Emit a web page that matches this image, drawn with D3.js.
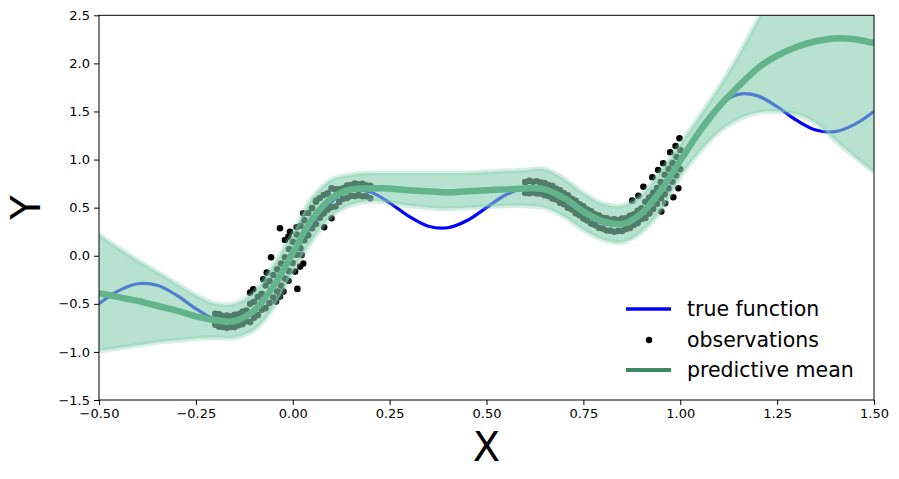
<!DOCTYPE html>
<html>
<head>
<meta charset="utf-8">
<script src="https://cdn.jsdelivr.net/npm/d3@7"></script>
<style>
body{margin:0;background:#fff;}
.font_legend{font-family:"DejaVu Sans";font-size:20.5px;fill:#000;}
.font_label{font-family:"DejaVu Sans";font-size:40px;fill:#000;}
</style>
</head>
<body>
<script>
var gridX=[-0.50,-0.45,-0.40,-0.35,-0.30,-0.25,-0.20,-0.15,-0.10,-0.05,0.00,0.05,0.10,0.15,0.20,0.25,0.30,0.35,0.40,0.45,0.50,
	0.55,0.60,0.65,0.70,0.75,0.80,0.85,0.90,0.95,1.00,1.05,1.10,1.15,1.20,1.25,1.30,1.35,1.40,1.45,1.50];
var trueY=[-0.500,-0.366,-0.291,-0.307,-0.409,-0.550,-0.662,-0.678,-0.562,-0.319,0.000,0.319,0.562,0.678,0.662,0.550,0.409,0.307,0.291,0.366,0.500,
	0.634,0.709,0.693,0.591,0.450,0.338,0.322,0.438,0.681,1.000,1.319,1.562,1.678,1.662,1.550,1.409,1.307,1.291,1.366,1.500];
var meanY=[-0.39,-0.43,-0.47,-0.52,-0.57,-0.63,-0.67,-0.68,-0.57,-0.32,0.03,0.38,0.60,0.69,0.70,0.70,0.68,0.67,0.66,0.67,0.68,
	0.69,0.70,0.69,0.60,0.46,0.36,0.33,0.44,0.68,0.99,1.29,1.55,1.76,1.95,2.08,2.17,2.23,2.26,2.25,2.21];
var upperY=[0.22,0.08,-0.05,-0.17,-0.29,-0.41,-0.50,-0.50,-0.38,-0.10,0.23,0.60,0.79,0.84,0.86,0.86,0.86,0.86,0.86,0.86,0.87,
	0.88,0.89,0.90,0.80,0.65,0.54,0.52,0.63,0.88,1.16,1.45,1.75,2.08,2.45,2.80,3.00,3.10,3.20,3.20,3.20];
var lowerY=[-0.99,-0.96,-0.93,-0.90,-0.88,-0.86,-0.85,-0.85,-0.77,-0.54,-0.17,0.16,0.41,0.53,0.57,0.55,0.52,0.50,0.49,0.50,0.51,
	0.52,0.52,0.50,0.41,0.27,0.17,0.14,0.25,0.47,0.82,1.08,1.29,1.42,1.49,1.50,1.47,1.38,1.20,1.03,0.87];

// observations: dense ones along the curve, then the scattered ones
var obsX=[-0.20,-0.19,-0.18,-0.17,-0.16,-0.15,-0.14,-0.13,-0.12,-0.11,-0.10,-0.09,-0.08,-0.07,-0.06,-0.05,-0.04,-0.03,-0.02,-0.01,0.00,
	0.01,0.02,0.03,0.04,0.05,0.06,0.07,0.08,0.09,0.10,0.11,0.12,0.13,0.14,0.15,0.16,0.17,0.18,0.19,0.20,
	-0.20,-0.19,-0.18,-0.17,-0.16,-0.15,-0.14,-0.13,-0.12,-0.11,-0.10,-0.09,-0.08,-0.07,-0.06,-0.05,-0.04,-0.03,-0.02,-0.01,0.00,
	0.01,0.02,0.03,0.04,0.05,0.06,0.07,0.08,0.09,0.10,0.11,0.12,0.13,0.14,0.15,0.16,0.17,0.18,0.19,0.20,
	0.60,0.61,0.62,0.63,0.64,0.65,0.66,0.67,0.68,0.69,0.70,0.71,0.72,0.73,0.74,0.75,0.76,0.77,0.78,0.79,0.80,
	0.81,0.82,0.83,0.84,0.85,0.86,0.87,0.88,0.89,0.90,0.91,0.92,0.93,0.94,0.95,0.96,0.97,0.98,0.99,1.00,
	0.60,0.61,0.62,0.63,0.64,0.65,0.66,0.67,0.68,0.69,0.70,0.71,0.72,0.73,0.74,0.75,0.76,0.77,0.78,0.79,0.80,
	0.81,0.82,0.83,0.84,0.85,0.86,0.87,0.88,0.89,0.90,0.91,0.92,0.93,0.94,0.95,0.96,0.97,0.98,0.99,1.00,
	0.060,0.027,-0.033,0.010,-0.007,-0.020,-0.011,-0.056,0.023,0.027,0.019,0.006,-0.067,-0.076,-0.011,0.012,-0.024,-0.102,-0.110,-0.033,-0.043,0.100,0.081,
	0.998,0.988,0.974,0.956,0.943,0.928,0.905,0.876,0.892,0.995,0.982,0.961,0.951];
var obsY=[-0.605,-0.610,-0.628,-0.622,-0.630,-0.614,-0.610,-0.584,-0.570,-0.500,-0.478,-0.428,-0.395,-0.310,-0.262,-0.200,-0.140,-0.080,-0.015,0.070,0.145,
	0.220,0.310,0.370,0.445,0.495,0.562,0.600,0.632,0.648,0.700,0.690,0.690,0.700,0.731,0.735,0.750,0.742,0.748,0.730,0.727,
	-0.718,-0.738,-0.740,-0.750,-0.741,-0.742,-0.722,-0.712,-0.680,-0.690,-0.645,-0.618,-0.562,-0.545,-0.492,-0.435,-0.372,-0.312,-0.238,-0.160,-0.075,
	0.010,0.078,0.162,0.212,0.285,0.330,0.395,0.440,0.478,0.505,0.512,0.560,0.592,0.600,0.622,0.620,0.630,0.618,0.618,0.598,
	0.765,0.778,0.770,0.775,0.760,0.757,0.735,0.724,0.696,0.680,0.648,0.628,0.592,0.571,0.534,0.514,0.479,0.462,0.431,0.419,0.394,
	0.390,0.373,0.378,0.371,0.386,0.390,0.416,0.431,0.468,0.494,0.562,0.605,0.655,0.705,0.765,0.842,0.905,0.965,1.030,1.100,
	0.652,0.650,0.658,0.647,0.648,0.629,0.622,0.596,0.584,0.552,0.535,0.500,0.480,0.443,0.422,0.386,0.367,0.334,0.319,0.291,0.282,
	0.262,0.261,0.250,0.259,0.258,0.278,0.288,0.319,0.340,0.382,0.392,0.440,0.485,0.540,0.597,0.640,0.700,0.770,0.835,0.900,
	0.573,0.442,0.286,0.296,0.250,0.164,0.199,-0.016,0.008,-0.080,-0.113,-0.165,-0.176,-0.244,-0.260,-0.345,-0.373,-0.348,-0.384,-0.425,-0.477,0.390,0.296,
	1.221,1.141,1.076,0.962,0.892,0.816,0.718,0.573,0.622,0.702,0.608,0.546,0.459];

var xTicks=[-0.50,-0.25,0.00,0.25,0.50,0.75,1.00,1.25,1.50];
var yTicks=[-1.5,-1.0,-0.5,0.0,0.5,1.0,1.5,2.0,2.5];
var legendNames=["true function","observations","predictive mean"];

var pLeft=99, pRight=874, pTop=15.3, pBottom=400;

var svg = d3.select("body").append("svg").attr("width", 899).attr("height", 479);

var x = d3.scaleLinear().domain([-0.5,1.5]).range([pLeft,pRight]);
var y = d3.scaleLinear().domain([-1.5,2.5]).range([pBottom,pTop]);

svg.append("clipPath").attr("id","plotclip")
	.append("rect").attr("x",pLeft).attr("y",pTop).attr("width",pRight-pLeft).attr("height",pBottom-pTop);

var plot = svg.append("g").attr("clip-path","url(#plotclip)");

var line = d3.line()
	.x(function(d,i){return x(gridX[i]);})
	.y(function(d){return y(d);})
	.curve(d3.curveCatmullRom);

plot.append("path").datum(trueY)
	.attr("d", line).attr("fill","none").attr("stroke","#0000ff").attr("stroke-width",3.2);

plot.selectAll("circle.obs").data(obsX).enter().append("circle")
	.attr("class","obs")
	.attr("cx", function(d){return x(d);})
	.attr("cy", function(d,i){return y(obsY[i]);})
	.attr("r", 3.3)
	.attr("fill","#000");

plot.append("path").datum(meanY)
	.attr("d", line).attr("fill","none").attr("stroke","#2e8b57").attr("stroke-width",6.5);

var area = d3.area()
	.x(function(d,i){return x(gridX[i]);})
	.y0(function(d,i){return y(lowerY[i]);})
	.y1(function(d){return y(d);})
	.curve(d3.curveCatmullRom);

plot.append("path").datum(upperY)
	.attr("d", area).attr("fill","rgb(135,207,176)").attr("fill-opacity",0.6);

// darker rim of the band
[upperY,lowerY].forEach(function(edge){
	plot.append("path").datum(edge)
		.attr("d", line).attr("fill","none")
		.attr("stroke","rgb(135,207,176)").attr("stroke-opacity",0.35).attr("stroke-width",5);
});

// axes
var gx = svg.append("g").attr("transform","translate(0,"+pBottom+")")
	.call(d3.axisBottom(x).tickValues(xTicks).tickFormat(d3.format(".2f")).tickSizeOuter(0).tickSize(5).tickPadding(4));
var gy = svg.append("g").attr("transform","translate("+pLeft+",0)")
	.call(d3.axisLeft(y).tickValues(yTicks).tickFormat(d3.format(".1f")).tickSizeOuter(0).tickSize(5).tickPadding(4));
[gx,gy].forEach(function(g){
	g.select(".domain").remove();
	g.attr("font-family","DejaVu Sans").attr("font-size",13);
	g.selectAll(".tick line").attr("stroke","#000");
	g.selectAll(".tick text").attr("fill","#000");
});

svg.append("rect").attr("x",pLeft).attr("y",pTop).attr("width",pRight-pLeft).attr("height",pBottom-pTop)
	.attr("fill","none").attr("stroke","#000").attr("stroke-width",1);

// axis labels
svg.append("text").attr("x",(pLeft+pRight)/2).attr("y",461)
	.style("text-anchor","middle").attr("class","font_label").text("X");
svg.append("text").attr("transform","translate(40,"+((pTop+pBottom)/2)+") rotate(-90)")
	.style("text-anchor","middle").attr("class","font_label").text("Y");

// legend
var legendY=[309,340,370];
var lg = svg.append("g");
lg.append("line").attr("x1",626).attr("x2",671).attr("y1",legendY[0]).attr("y2",legendY[0])
	.attr("stroke","#0000ff").attr("stroke-width",3.4);
lg.append("circle").attr("cx",649).attr("cy",legendY[1]).attr("r",3.2).attr("fill","#000");
lg.append("line").attr("x1",626).attr("x2",671).attr("y1",legendY[2]).attr("y2",legendY[2])
	.attr("stroke","#3e8962").attr("stroke-width",4);
for(var i=0;i<legendNames.length;i++){
	lg.append("text").attr("x",687).attr("y",legendY[i]).attr("dy","0.35em")
		.attr("class","font_legend").text(legendNames[i]);
}
</script>
</body>
</html>
